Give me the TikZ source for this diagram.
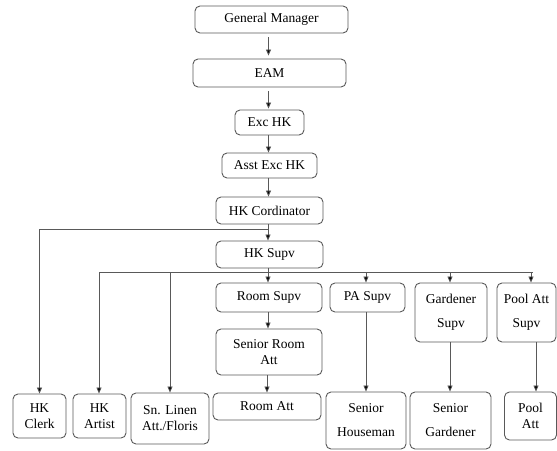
\documentclass[tikz,border=0pt]{standalone}
\usepackage{fontspec}
\setmainfont{Liberation Serif}
\newfontfamily\tnr{Liberation Serif}
\usetikzlibrary{arrows.meta}
\tikzset{
  box/.style={draw=black!65, line width=0.9pt, rounded corners=5pt, align=center, inner sep=0pt, font=\tnr\fontsize{13.5}{16}\selectfont},
  arr/.style={draw=black!65, line width=0.8pt, -{Triangle[length=6pt,width=5pt,fill=black]}},
  ln/.style={draw=black!65, line width=0.8pt}
}
\begin{document}
\begin{tikzpicture}[x=1pt,y=-1pt]
\useasboundingbox (0,0) rectangle (557,450);
\node[box, minimum width=153pt, minimum height=27pt] (GM) at (271.5,19.5) {General Manager};
\node[box, minimum width=153pt, minimum height=28pt] (EAM) at (269.5,73) {EAM};
\node[box, minimum width=69pt, minimum height=25pt] (Exc) at (269.5,122.5) {Exc HK};
\node[box, minimum width=95pt, minimum height=25pt] (Asst) at (269.5,165.5) {Asst Exc HK};
\node[box, minimum width=107pt, minimum height=27pt] (Cord) at (269.5,210.5) {HK Cordinator};
\node[box, minimum width=107pt, minimum height=27pt] (Supv) at (269.5,254.5) {HK Supv};
\node[box, minimum width=106pt, minimum height=29pt] (RoomSupv) at (269,297.5) {Room Supv};
\node[box, minimum width=106pt, minimum height=46pt] (SRA) at (269,352) {Senior Room\\Att};
\node[box, minimum width=108pt, minimum height=27pt] (RoomAtt) at (267,406.5) {Room Att};
\node[box, minimum width=75pt, minimum height=29pt] (PASupv) at (367.5,297.5) {PA Supv};
\node[box, minimum width=80pt, minimum height=57pt] (SH) at (366,420.5) {Senior\\[8pt]Houseman};
\node[box, minimum width=72pt, minimum height=59pt] (GardSupv) at (451,312.5) {Gardener\\[8pt]Supv};
\node[box, minimum width=81pt, minimum height=57pt] (SG) at (450.5,420.5) {Senior\\[8pt]Gardener};
\node[box, minimum width=59pt, minimum height=59pt] (PoolSupv) at (526.5,312.5) {Pool Att\\[8pt]Supv};
\node[box, minimum width=52pt, minimum height=48pt] (PoolAtt) at (530.5,416) {Pool\\Att};
\node[box, minimum width=53pt, minimum height=44pt] (Clerk) at (39.5,416) {HK\\Clerk};
\node[box, minimum width=53pt, minimum height=44pt] (Artist) at (99.5,416) {HK\\Artist};
\node[box, minimum width=78pt, minimum height=51pt] (Linen) at (170,418.5) {Sn. Linen\\Att./Floris};

\coordinate (split) at (268,229);
\coordinate (bus) at (268,272);
\coordinate (busL) at (99,272);
\coordinate (busR) at (533,272);

\draw[arr, shorten <=4pt, shorten >=3pt] ([xshift=-1pt]GM.south -| EAM.north) -- ([xshift=-1pt]EAM.north);
\draw[arr, shorten <=4pt, shorten >=1pt] ([xshift=-1pt]EAM.south) -- ([xshift=-1pt]Exc.north);
\draw[arr] ([xshift=-1pt]Exc.south) -- ([xshift=-1pt]Asst.north);
\draw[arr] ([xshift=-1pt]Asst.south) -- ([xshift=-1pt]Cord.north);
\draw[arr] (Cord.south -| split) -- (Supv.north -| split);
\draw[ln] (split) -- (split -| Clerk.north);
\draw[arr] (split -| Clerk.north) -- (Clerk.north);
\draw[ln] (Supv.south -| bus) -- (bus);
\draw[ln] (busL) -- (busR);
\draw[arr] (busL) -- (busL |- Artist.north);
\draw[arr] (bus -| Linen.north) -- (Linen.north);
\draw[arr] (bus) -- (RoomSupv.north -| bus);
\draw[arr] (bus -| 366,0) -- (PASupv.north -| 366,0);
\draw[arr] (bus -| 450,0) -- (GardSupv.north -| 450,0);
\draw[arr] (bus -| 531,0) -- (PoolSupv.north -| 531,0);
\draw[arr] (RoomSupv.south -| bus) -- (SRA.north -| bus);
\draw[arr] (SRA.south -| 267,0) -- (RoomAtt.north -| 267,0);
\draw[arr] (PASupv.south -| 366,0) -- (SH.north -| 366,0);
\draw[arr] (GardSupv.south -| 450,0) -- (SG.north -| 450,0);
\draw[arr] (PoolSupv.south -| 536,0) -- (PoolAtt.north -| 536,0);
\end{tikzpicture}
\end{document}
